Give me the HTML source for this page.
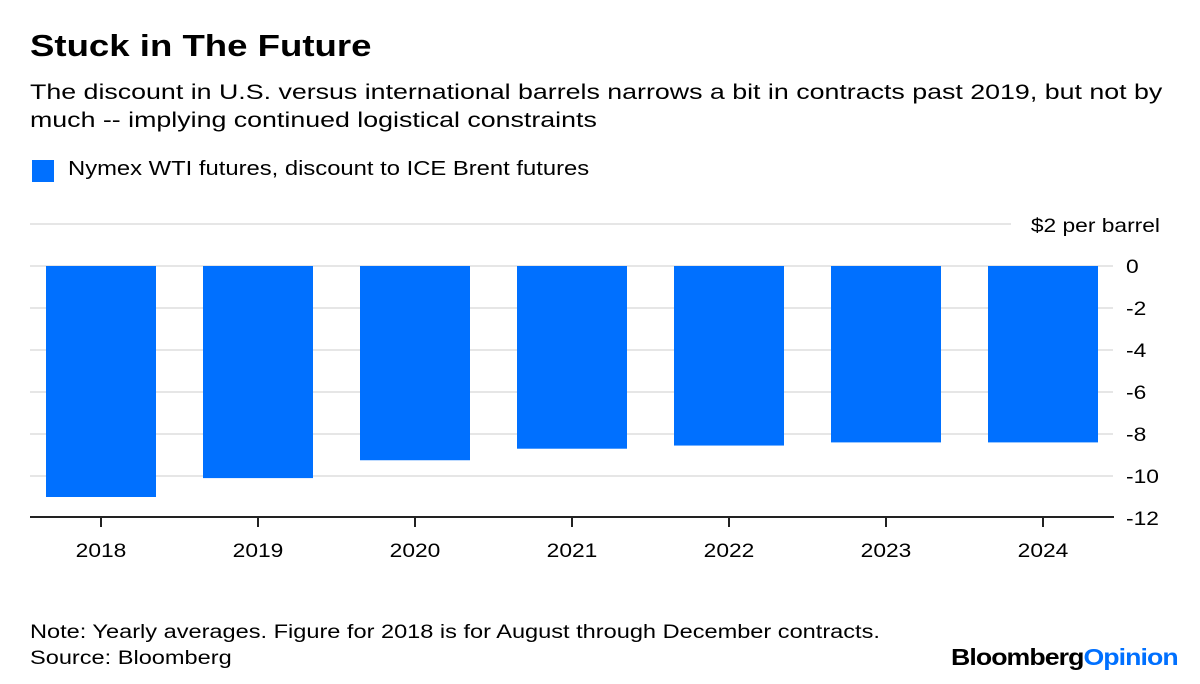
<!DOCTYPE html>
<html><head><meta charset="utf-8">
<style>
body{margin:0;width:1200px;height:684px;background:#fff;font-family:"Liberation Sans",sans-serif;overflow:hidden;position:relative;color:#000}
.t{position:absolute;white-space:nowrap;transform-origin:0 0}
</style></head>
<body>
<div class="t" style="left:30px;top:28px;font-size:31px;font-weight:bold;transform:scaleX(1.18)">Stuck in The Future</div>
<div class="t" style="left:30px;top:78px;font-size:21.5px;line-height:28px;transform:scaleX(1.245)">The discount in U.S. versus international barrels narrows a bit in contracts past 2019, but not by<br>much -- implying continued logistical constraints</div>
<div style="position:absolute;left:32px;top:160px;width:22px;height:22px;background:#0070ff"></div>
<div class="t" style="left:68px;top:158px;font-size:20px;transform:scaleX(1.19)">Nymex WTI futures, discount to ICE Brent futures</div>
<svg id="chart" width="1200" height="684" style="position:absolute;left:0;top:0"></svg>
<div class="t" style="left:30px;top:620px;font-size:19px;line-height:26px;transform:scaleX(1.24)">Note: Yearly averages. Figure for 2018 is for August through December contracts.<br>Source: Bloomberg</div>
<div class="t" style="left:951px;top:644px;font-size:23px;font-weight:bold;letter-spacing:-0.8px;transform:scaleX(1.16)">Bloomberg<span style="color:#0070ff">Opinion</span></div>
<script>
const categories=["2018","2019","2020","2021","2022","2023","2024"];
const values=[-11.0,-10.1,-9.25,-8.7,-8.55,-8.4,-8.4];
const yTicks=[0,-2,-4,-6,-8,-10,-12];
const NS="http://www.w3.org/2000/svg";
const svg=document.getElementById("chart");
const y0=266,unit=21,left=22.5,step=157,bw=110;
const y=v=>y0-v*unit;
const xc=i=>left+step*(i+0.5);
function mk(t,a){const e=document.createElementNS(NS,t);for(const k in a)e.setAttribute(k,a[k]);svg.appendChild(e);return e;}
function txt(x,yy,s,anchor){const e=mk("text",{transform:`translate(${x},${yy}) scale(1.2,1)`,"text-anchor":anchor,"font-size":19,"font-family":"Liberation Sans"});e.textContent=s;return e;}
let g=mk("line",{x1:30,x2:1011,y1:y(2),y2:y(2),stroke:"#e6e6e6","stroke-width":2});


let u=txt(1160,y(2)+8,"$2 per barrel","end");


yTicks.forEach(t=>{
 if(t>-12){const l=mk("line",{x1:30,x2:1113,y1:y(t),y2:y(t),stroke:"#e6e6e6","stroke-width":2});
 
 }
 const tx=txt(1126,y(t)+7,String(t),"start");
 
 
});
values.forEach((v,i)=>{
 const r=mk("rect",{x:xc(i)-bw/2,y:Math.min(y(v),y0),width:bw,height:Math.abs(y(v)-y0),fill:"#0070ff"});
 
 
 const tk=mk("line",{x1:xc(i),x2:xc(i),y1:517,y2:527,stroke:"#222","stroke-width":2});
 
 
 const lb=txt(xc(i),557,categories[i],"middle");
 
 
});
const ax=mk("line",{x1:30,x2:1114,y1:517,y2:517,stroke:"#222","stroke-width":2});


</script>
</body></html>
